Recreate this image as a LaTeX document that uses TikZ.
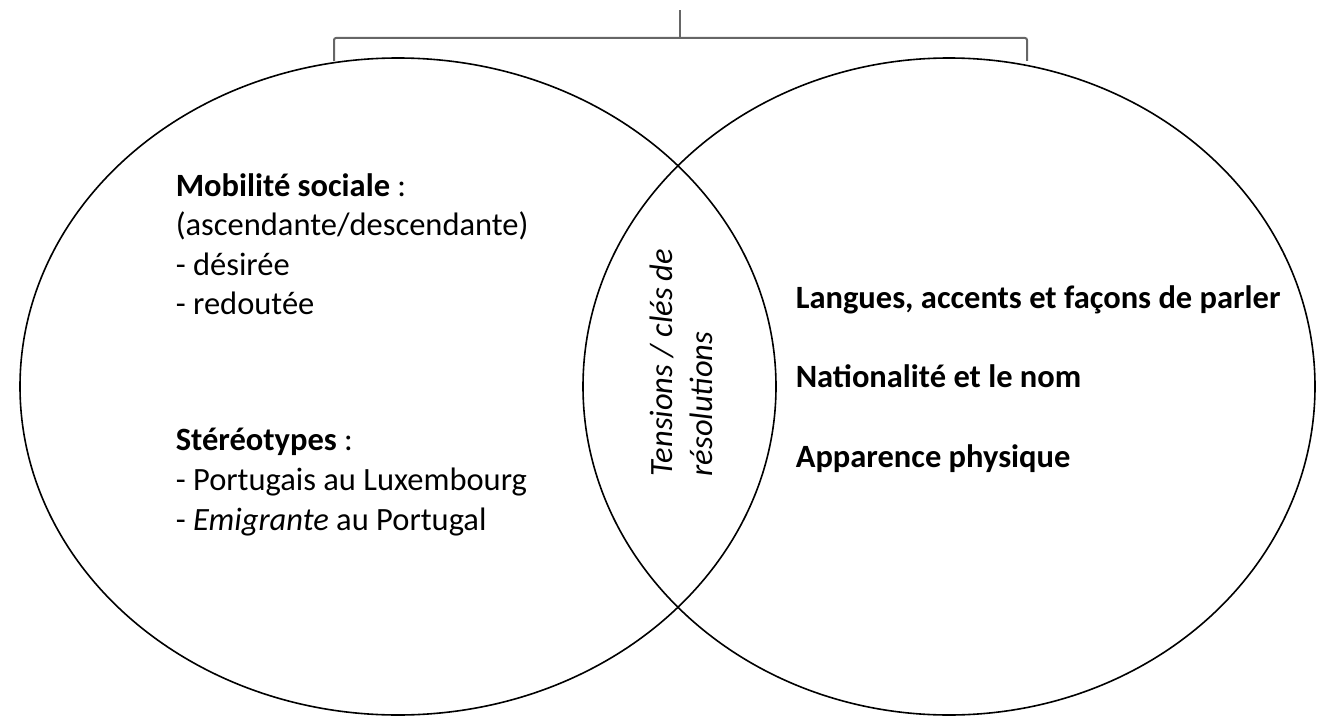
\documentclass[tikz,border=0pt]{standalone}
\usepackage{fontspec}
\setmainfont{Carlito}
\usetikzlibrary{shapes.geometric}

\begin{document}
\begin{tikzpicture}
  [x=1pt,y=-1pt,line width=1.6pt,
   every node/.style={inner sep=0pt,font=\fontsize{32.5}{39.6}\selectfont},
   set/.style={draw,ellipse,inner sep=0pt,minimum height=657pt},
   item/.style={anchor=base west},
   lens/.style={anchor=base west,rotate=90,font=\fontsize{32.5}{39.6}\selectfont\itshape}]
  \useasboundingbox (0,0) rectangle (1317,717);
  \node[set,minimum width=756pt] (left) at (398,386.5) {};
  \node[set,minimum width=732pt] (right) at (949,386.5) {};
  \coordinate (bl) at (334,61);
  \coordinate (br) at (1027,61);
  \coordinate (bm) at (680,38);
  \coordinate (bt) at (680,10);
  \draw[black!60,line width=2pt,rounded corners=2pt]
    (bl) -- (bl |- bm) -- (br |- bm) -- (br);
  \draw[black!60,line width=2pt] (bm) -- (bt);
  \node[item] (mob) at (175,196) {\textbf{Mobilité sociale} :};
  \node[item] (asc) at (175,235) {(ascendante/descendante)};
  \node[item] (des) at (175,275) {- désirée};
  \node[item] (red) at (175,314) {- redoutée};
  \node[item] (ste) at (175,450) {\textbf{Stéréotypes} :};
  \node[item] (por) at (175,490) {- Portugais au Luxembourg};
  \node[item] (emi) at (175,530) {- \textit{Emigrante} au Portugal};
  \node[lens] (ten) at (672,477) {Tensions / clés de};
  \node[lens] (res) at (712,477) {résolutions};
  \foreach \y/\t [count=\i] in {308/{Langues, accents et façons de parler},
      387/{Nationalité et le nom},467/{Apparence physique}}
    \node[item,font=\fontsize{32.5}{39.6}\selectfont\bfseries] (r\i) at (795,\y) {\t};
\end{tikzpicture}
\end{document}
